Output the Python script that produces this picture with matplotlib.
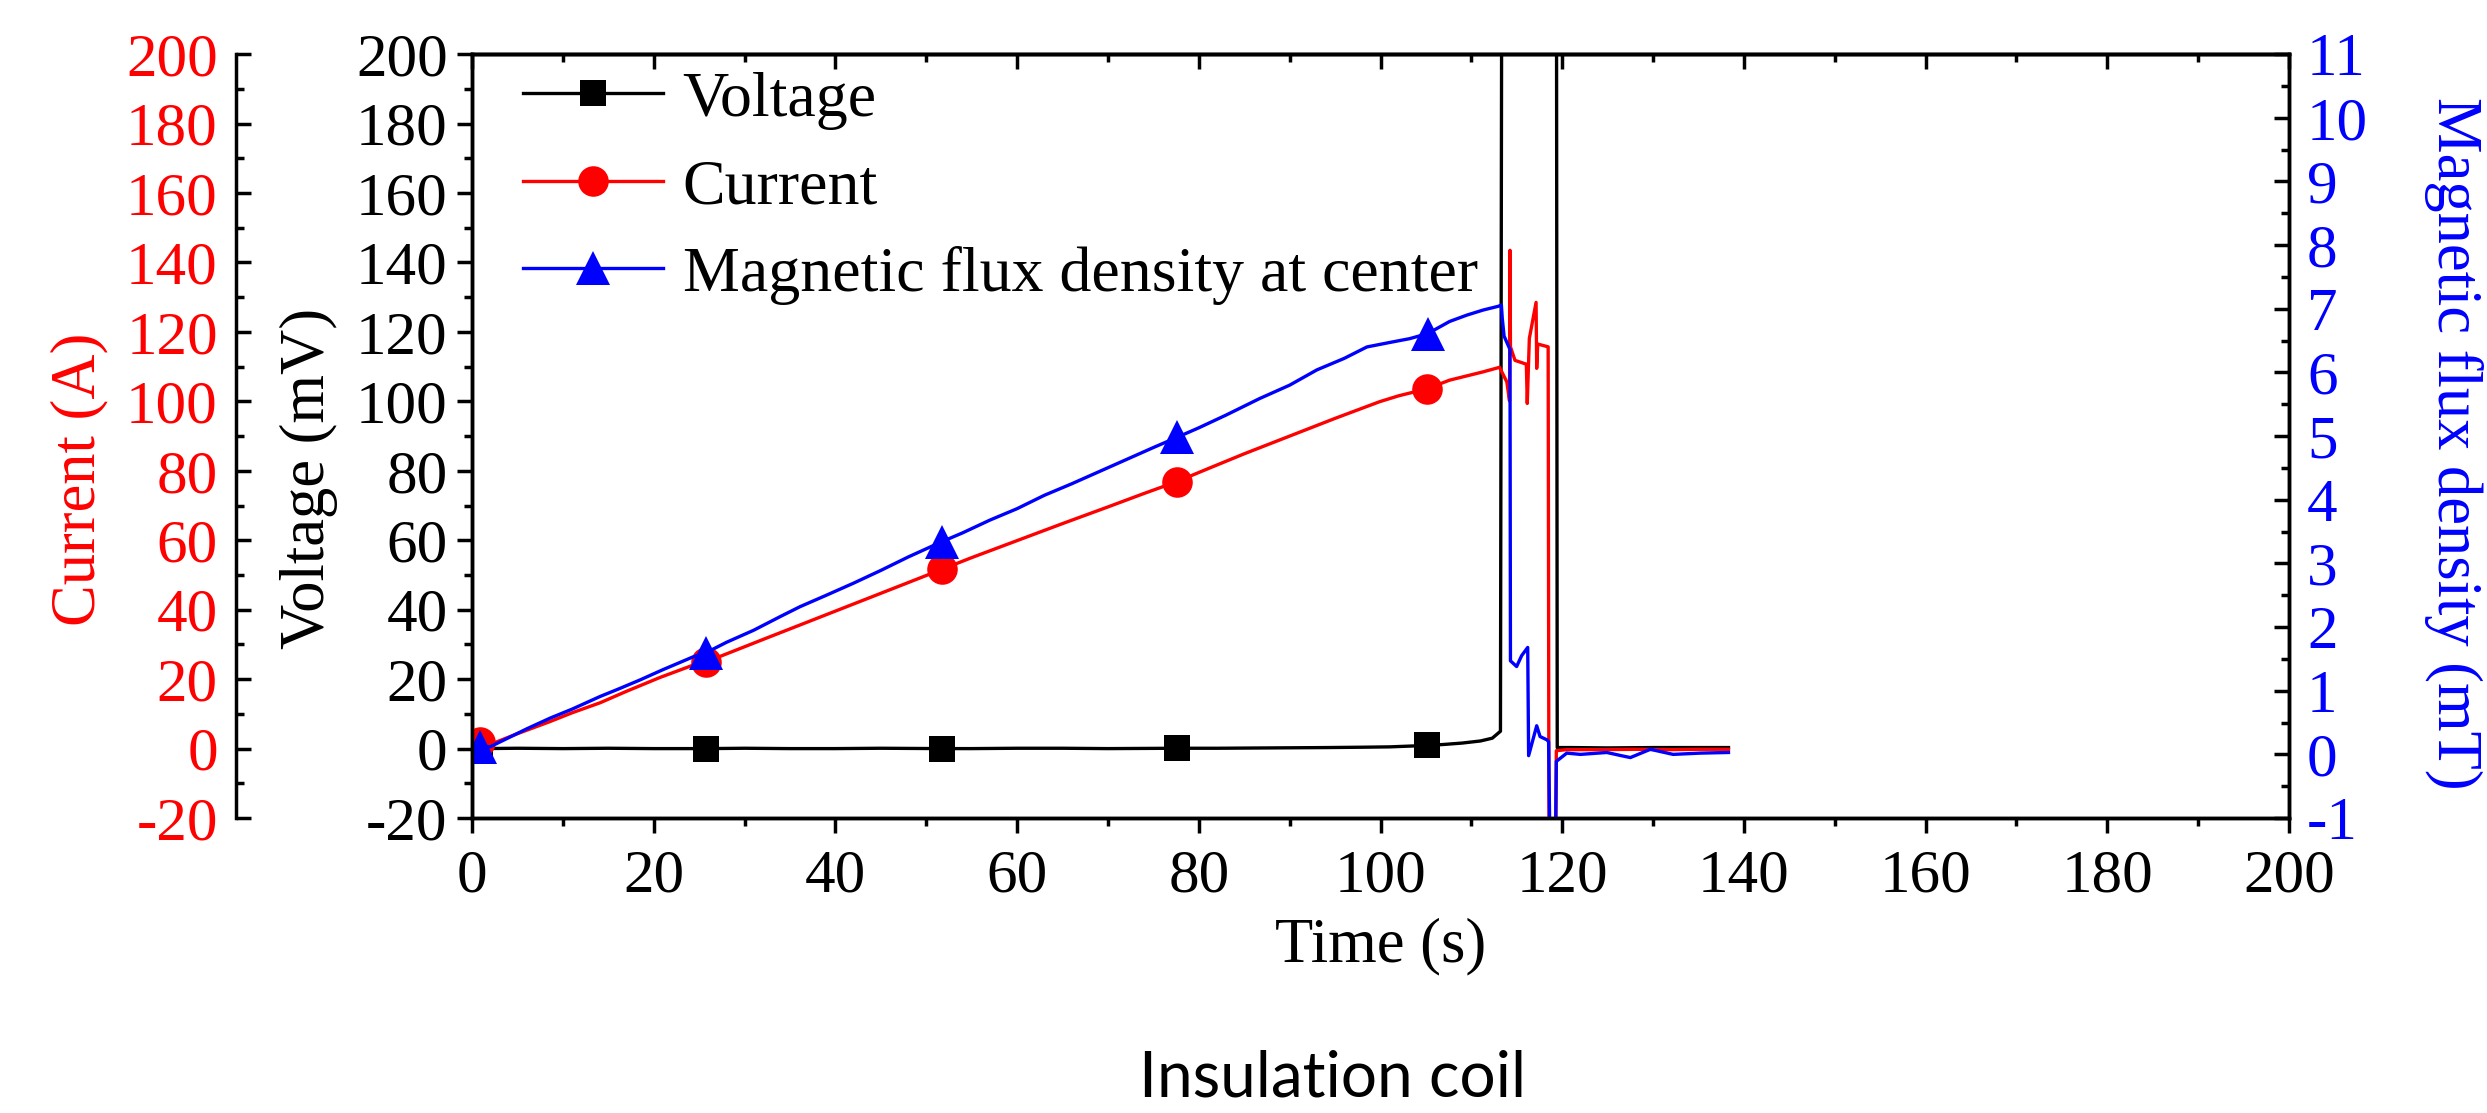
import numpy as np
import matplotlib
matplotlib.use('Agg')
import matplotlib.pyplot as plt
from matplotlib.ticker import MultipleLocator

plt.rcParams['font.family'] = ['Liberation Serif', 'DejaVu Serif']
plt.rcParams['axes.unicode_minus'] = False

# values
t_volt = [0, 0.9, 5, 10, 15, 20, 25.8, 30, 35, 40, 45, 51.7, 55, 60, 65, 70, 77.6, 82, 88, 94,
          98, 101, 103, 105.1, 107, 109, 111, 112.3, 113.2, 113.45, 119.3, 119.45, 121, 125, 130,
          134, 138.3]
volt = [0.1, 0.0, 0.1, 0.0, 0.1, 0.0, 0.0, 0.1, 0.0, 0.0, 0.1, 0.0, 0.0, 0.1, 0.1, 0.0, 0.1, 0.1,
        0.2, 0.3, 0.4, 0.5, 0.7, 0.9, 1.2, 1.6, 2.2, 3.0, 5.0, 400, 400, 0.3, 0.3, 0.2, 0.3, 0.3, 0.3]

t_cur = [0, 0.9, 2, 5, 8.6, 11, 14.1, 17, 20.7, 24.3, 25.8, 29, 32, 36.1, 40, 44, 48, 51.7, 55,
         60, 65, 70, 74, 77.6, 81, 85, 90, 95, 99.9, 102, 105.1, 107.6, 111.3, 113.1, 113.9, 114.2,
         114.25, 114.3, 114.8, 116.05, 116.15, 116.38, 117.12, 117.19, 117.3, 118.45, 118.55,
         119.25, 119.35, 120.5, 124, 128, 132, 135, 138.3]
cur = [0.3, 1.8, 1.2, 4.3, 7.8, 10.3, 13.2, 16.5, 20.5, 24.0, 25.0, 28.3, 31.4, 35.6, 39.6, 43.7,
       47.8, 51.6, 55.0, 59.9, 64.8, 69.6, 73.5, 76.9, 80.6, 84.9, 90.0, 95.1, 99.9, 101.6, 103.6,
       106.1, 108.5, 109.8, 105.6, 100.1, 143.5, 115.7, 111.8, 110.7, 99.4, 118.1, 128.5, 109.5,
       116.5, 115.7, -40, -40, -0.6, -0.3, -0.3, -0.2, -0.3, -0.2, -0.2]

t_mag = [0, 0.9, 2, 4, 6, 8.6, 11, 14.1, 16, 18.5, 21, 24.3, 25.8, 28, 31, 34, 36.1, 39, 42, 45,
         48, 51.7, 54, 57, 60, 63, 66, 69, 72, 75, 77.6, 80, 83, 86.7, 90, 93, 96, 98.5, 101, 103.2,
         105.2, 107.6, 109.5, 111.3, 113.0, 113.3, 113.4, 113.6, 114.25, 114.3, 114.98, 115.53,
         116.2, 116.3, 117.19, 117.56, 118.3, 118.5, 118.65, 119.25, 119.35, 120.5, 122, 124.9,
         126.5, 127.5, 129.7, 132.2, 135.2, 138.3]
mag = [0.02, 0.12, 0.12, 0.26, 0.40, 0.57, 0.71, 0.91, 1.02, 1.17, 1.33, 1.53, 1.60, 1.76, 1.95,
       2.17, 2.32, 2.50, 2.69, 2.89, 3.10, 3.34, 3.48, 3.68, 3.86, 4.07, 4.25, 4.44, 4.63, 4.82,
       4.98, 5.13, 5.33, 5.59, 5.80, 6.04, 6.22, 6.40, 6.47, 6.53, 6.61, 6.80, 6.90, 6.98, 7.04,
       7.06, 6.85, 6.57, 6.36, 1.47, 1.38, 1.55, 1.68, -0.02, 0.45, 0.28, 0.23, 0.20, -1.5, -1.5,
       -0.11, 0.02, 0.0, 0.03, -0.02, -0.05, 0.08, 0.0, 0.02, 0.03]

mark_t = [0.9, 25.8, 51.7, 77.6]
mark_t_last = [105.1, 105.1, 105.2]

fig = plt.figure(figsize=(24.87, 11.13), dpi=100)
ax = fig.add_axes([0.1898, 0.2650, 0.7306, 0.6864])
ax_i = ax.twinx()
ax_b = ax.twinx()

FS = 44
LFS = 45
LW = 2.4
SW = 2.5

def idx(ts, extra):
    return [ts.index(v) for v in mark_t] + [ts.index(extra)]

l_v, = ax.plot(t_volt, volt, color='black', lw=LW, marker='s', ms=19, mew=0,
               markevery=idx(t_volt, mark_t_last[0]), label='Voltage')
l_i, = ax_i.plot(t_cur, cur, color='red', lw=LW, marker='o', ms=22, mew=0,
                 markevery=idx(t_cur, mark_t_last[1]), label='Current')
l_b, = ax_b.plot(t_mag, mag, color='blue', lw=LW, marker='^', ms=24, mew=0,
                 markevery=idx(t_mag, mark_t_last[2]), label='Magnetic flux density at center')

ax.set_xlim(0, 200)
ax.set_ylim(-20, 200)
ax_i.set_ylim(-20, 200)
ax_b.set_ylim(-1, 11)

for a in (ax, ax_i, ax_b):
    for s in a.spines.values():
        s.set_linewidth(SW)

# voltage axis
ax.xaxis.set_major_locator(MultipleLocator(20))
ax.xaxis.set_minor_locator(MultipleLocator(10))
ax.yaxis.set_major_locator(MultipleLocator(20))
ax.yaxis.set_minor_locator(MultipleLocator(10))
ax.tick_params(axis='x', which='major', direction='out', length=10.5, width=SW, labelsize=FS, pad=12)
ax.tick_params(axis='x', which='minor', direction='out', length=5.5, width=SW)
ax.tick_params(axis='y', which='major', direction='out', length=10.5, width=SW, labelsize=FS, pad=7)
ax.tick_params(axis='y', which='minor', direction='out', length=5.5, width=SW)
ax.set_xlabel('Time (s)', fontsize=LFS, labelpad=9)
ax.set_ylabel('Voltage (mV)', fontsize=LFS, labelpad=13)
ax.yaxis.label.set_y(0.444)

top = ax.secondary_xaxis('top')
top.xaxis.set_major_locator(MultipleLocator(20))
top.xaxis.set_minor_locator(MultipleLocator(10))
top.tick_params(which='major', direction='in', length=10.5, width=SW, labeltop=False)
top.tick_params(which='minor', direction='in', length=5.5, width=SW)
top.spines['top'].set_linewidth(SW)

# current axis, offset to the left
ax_i.yaxis.set_ticks_position('left')
ax_i.yaxis.set_label_position('left')
ax_i.spines['left'].set_visible(True)
ax_i.spines['left'].set_position(('outward', 170))
for s in ('right', 'top', 'bottom'):
    ax_i.spines[s].set_visible(False)
ax_i.yaxis.set_major_locator(MultipleLocator(20))
ax_i.yaxis.set_minor_locator(MultipleLocator(10))
ax_i.tick_params(axis='y', which='major', direction='in', length=10.5, width=SW,
                 labelsize=FS, labelcolor='red', pad=13)
ax_i.tick_params(axis='y', which='minor', direction='in', length=5.5, width=SW)
ax_i.set_ylabel('Current (A)', color='red', fontsize=LFS, labelpad=13)
ax_i.yaxis.label.set_y(0.444)

# magnetic flux density axis
ax_b.yaxis.set_major_locator(MultipleLocator(1))
ax_b.yaxis.set_minor_locator(MultipleLocator(0.5))
ax_b.tick_params(axis='y', which='major', direction='in', length=10.5, width=SW,
                 labelsize=FS, labelcolor='blue', pad=13)
ax_b.tick_params(axis='y', which='minor', direction='in', length=5.5, width=SW)
ax_b.set_ylabel('Magnetic flux density (mT)', color='blue', fontsize=LFS,
                rotation=270, va='bottom', labelpad=40)
ax_b.yaxis.label.set_y(0.49)

ax_b.legend([l_v, l_i, l_b], [l_v.get_label(), l_i.get_label(), l_b.get_label()],
            loc='upper left', bbox_to_anchor=(0.028, 0.978), frameon=False, fontsize=46,
            handlelength=2.2, handletextpad=0.3, labelspacing=0.45, borderpad=0,
            borderaxespad=0, numpoints=1)

fig.text(0.536, 0.0144, 'Insulation coil', family=['Lato', 'DejaVu Sans'], fontsize=46,
         ha='center', va='baseline')

fig.savefig('out.png', dpi=100)
